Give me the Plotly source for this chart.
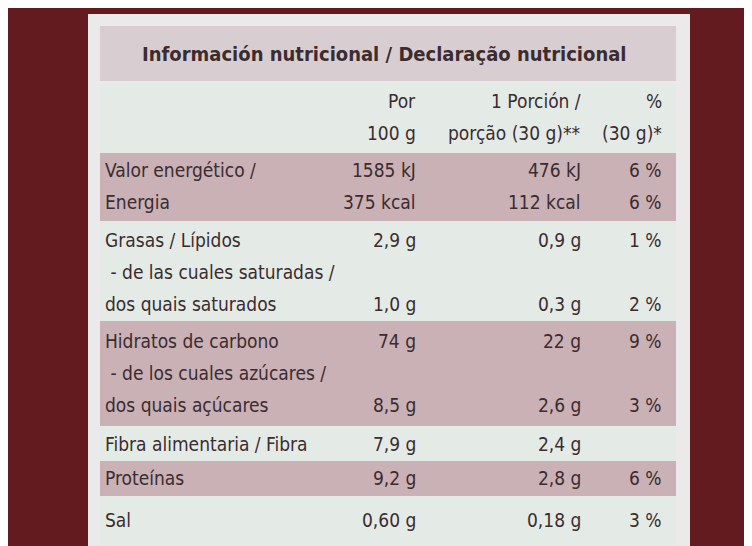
import plotly.graph_objects as go

title = "Información nutricional / Declaração nutricional"

labels = [
    ["", ""],
    ["Valor energético /", "Energia"],
    ["Grasas / Lípidos", " - de las cuales saturadas /", "dos quais saturados"],
    ["Hidratos de carbono", " - de los cuales azúcares /", "dos quais açúcares"],
    ["Fibra alimentaria / Fibra"],
    ["Proteínas"],
    ["Sal"],
]
per100 = [
    ["Por", "100 g"],
    ["1585 kJ", "375 kcal"],
    ["2,9 g", "", "1,0 g"],
    ["74 g", "", "8,5 g"],
    ["7,9 g"],
    ["9,2 g"],
    ["0,60 g"],
]
portion = [
    ["1 Porción /", "porção (30 g)**"],
    ["476 kJ", "112 kcal"],
    ["0,9 g", "", "0,3 g"],
    ["22 g", "", "2,6 g"],
    ["2,4 g"],
    ["2,8 g"],
    ["0,18 g"],
]
pct = [
    ["%", "(30 g)*"],
    ["6 %", "6 %"],
    ["1 %", "", "2 %"],
    ["9 %", "", "3 %"],
    [""],
    ["6 %"],
    ["3 %"],
]

row_tops = [75, 145, 213, 313, 418, 453, 488, 546]
row_fill = ["#e4ebe7", "#c9b1b6", "#e4ebe7", "#c9b1b6", "#e4ebe7", "#c9b1b6", "#e4ebe7"]
first_line = [93, 162, 232, 333, 436, 470, 512]
line_h = 32
text_col = "#3b2c2f"
font = dict(family="DejaVu Sans Condensed, sans-serif", size=19, color=text_col)

fig = go.Figure()
shapes = [
    dict(type="rect", x0=80, x1=682, y0=6, y1=546, fillcolor="#ece9ea", line_width=0, layer="below"),
    dict(type="rect", x0=92, x1=668, y0=18, y1=73, fillcolor="#d8ced2", line_width=0, layer="below"),
]
ann = [dict(x=376, y=46, text="<b>" + title + "</b>", showarrow=False,
            font=dict(font, size=20), xanchor="center")]

for i in range(len(labels)):
    shapes.append(dict(type="rect", x0=92, x1=668, y0=row_tops[i], y1=row_tops[i + 1],
                       fillcolor=row_fill[i], line_width=0, layer="below"))
    for j in range(len(labels[i])):
        y = first_line[i] + j * line_h
        for txt, x, anc in [(labels[i][j], 95, "left"), (per100[i][j], 410, "right"),
                            (portion[i][j], 575, "right"), (pct[i][j], 656, "right")]:
            if txt:
                ann.append(dict(x=x, y=y, text=txt, showarrow=False, font=font, xanchor=anc))

fig.update_layout(
    width=752, height=546, margin=dict(l=0, r=0, t=0, b=0),
    paper_bgcolor="#641b20", plot_bgcolor="#641b20",
    xaxis=dict(range=[0, 752], visible=False, fixedrange=True, domain=[0, 1]),
    yaxis=dict(range=[546, 0], visible=False, fixedrange=True, domain=[0, 1]),
    shapes=shapes, annotations=ann, showlegend=False,
)
fig.write_html("out.html")
